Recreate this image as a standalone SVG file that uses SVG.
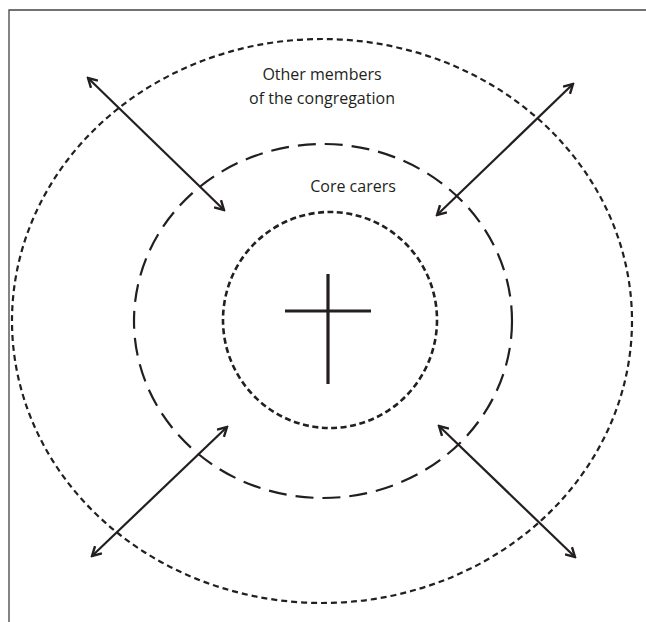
<svg xmlns="http://www.w3.org/2000/svg" width="646" height="622" viewBox="0 0 646 622">
<defs>
<style>
.frame{stroke:#444;stroke-width:1.3;fill:none}
.ring{fill:none;stroke:#231f20}
.outer{stroke-width:2.2;stroke-dasharray:6 4}
.mid{stroke-width:2.2;stroke-dasharray:18 9}
.inner{stroke-width:2.6;stroke-dasharray:6 3.5}
.arrow{stroke:#231f20;stroke-width:2.2;fill:none;marker-start:url(#ah);marker-end:url(#ah)}
.cross{stroke:#231f20;stroke-width:3.2;fill:none}
.lbl{font-family:"Open Sans","Liberation Sans",sans-serif;font-size:16px;fill:#231f20;text-anchor:middle}
</style>
<marker id="ah" viewBox="0 0 12 12" refX="10" refY="6" markerWidth="12" markerHeight="12" markerUnits="userSpaceOnUse" orient="auto-start-reverse">
<path d="M1,1 L10,6 L1,11" fill="none" stroke="#231f20" stroke-width="2.4"/>
</marker>
</defs>
<path class="frame" d="M9,622 V10 H646"/>
<g id="outer-ring"><ellipse class="ring outer" cx="322" cy="321" rx="310" ry="282"/></g>
<g id="core-ring"><ellipse class="ring mid" cx="323" cy="321" rx="189" ry="177"/></g>
<g id="inner-ring"><ellipse class="ring inner" cx="330" cy="320" rx="107" ry="108"/></g>
<g id="cross"><path class="cross" d="M328,274 V384 M285,311 H371"/></g>
<g id="label-other"><text class="lbl" x="322" y="80">Other members</text><text class="lbl" x="322" y="104">of the congregation</text></g>
<g id="label-core"><text class="lbl" x="353" y="192">Core carers</text></g>
<g id="connectors">
<line class="arrow" x1="88" y1="78" x2="224" y2="210"/>
<line class="arrow" x1="573" y1="84" x2="437" y2="215"/>
<line class="arrow" x1="227" y1="427" x2="92" y2="556"/>
<line class="arrow" x1="439" y1="426" x2="575" y2="557"/>
</g>
</svg>
